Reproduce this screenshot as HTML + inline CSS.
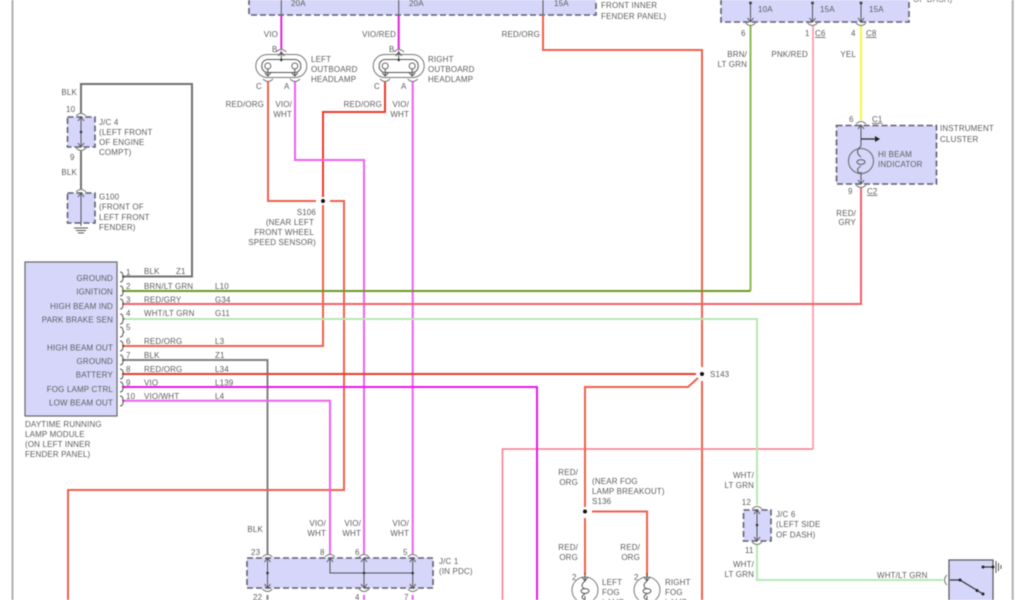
<!DOCTYPE html>
<html><head><meta charset="utf-8"><style>
html,body{margin:0;padding:0;background:#fff;width:1024px;height:600px;overflow:hidden}
svg{display:block;filter:blur(.5px)}
text{font-family:"Liberation Sans",sans-serif;font-size:8px;fill:#5c5c5c;letter-spacing:.15px}
.e{text-anchor:end}
.w{fill:none;stroke-width:2}
.box{fill:#d6d6fb;stroke:#5f5f6f;stroke-width:1.6;stroke-dasharray:6 3}
.k{fill:none;stroke:#555;stroke-width:1}
.a{fill:none;stroke:#777;stroke-width:1}
</style></head><body>
<svg width="1024" height="600" viewBox="0 0 1024 600" xmlns="http://www.w3.org/2000/svg">
<defs>
<g id="t"><path class="a" d="M-5 2Q0-3 5 2"/><path class="k" d="M-3 7L0 3L3 7"/></g>
<g id="b"><path class="a" d="M-5-2Q0 3 5-2"/><path class="k" d="M-3-7L0-3L3-7"/></g>
<g id="r"><path class="k" d="M-1-5Q2-5 2-1L3 0L2 1Q2 5-1 5"/></g>
<g id="lamp"><circle r="13" fill="#fff" stroke="#777" stroke-width="1"/><path class="k" d="M0-17V-10M0 6V17M-3-13L0-9L3-13"/><ellipse cx="0" cy="1" rx="4" ry="2.4" class="k"/><path class="k" d="M0-9Q-6-4 0-1M0 4Q-6 7 0 10"/></g>
<g id="h"><rect x="-25.500" y="-11.500" width="51" height="23" rx="11.500" fill="#fff" stroke="#777" stroke-width="1"/><rect x="-19.500" y="-6.500" width="39" height="13" rx="6" fill="none" stroke="#555"/><circle cx="-13.500" r="3" fill="#fff" stroke="#666"/><circle cx="13.500" r="3" fill="#fff" stroke="#666"/><path class="k" d="M0-15V-6M-3-10L0-14L3-10M-13.500 3V10M13.500 3V10M-16.500 7L-13.500 10L-10.500 7M10.500 7L13.500 10L16.500 7"/><circle cy="-6" r="1.200" fill="#222"/></g>
</defs>

<!-- page frame -->
<path d="M12.500 0V600M1012.700 0V600" stroke="#b0b0b0" stroke-width="2" fill="none"/>

<!-- boxes -->
<path d="M249-10V15H596V-10" class="box"/>
<path d="M721-10V22H909V-10" class="box"/>
<rect x="25" y="262" width="92" height="154" fill="#d6d6fb" stroke="#666" stroke-width="1.200"/>
<rect x="67.500" y="117" width="27.500" height="30" class="box"/>
<rect x="67.500" y="193" width="27.500" height="30" class="box"/>
<rect x="836.500" y="125.500" width="100" height="58.500" class="box"/>
<rect x="247" y="558" width="186" height="30" class="box"/>
<rect x="743.500" y="510" width="27.500" height="31" class="box"/>
<rect x="949" y="560" width="44" height="45" fill="#d6d6fb" stroke="#555" stroke-width="1.200"/>

<!-- wires -->
<path class="w" stroke="#707070" d="M81 113V84H192V276.500H122"/>
<path class="w" stroke="#707070" d="M81 151V189"/>
<path class="w" stroke="#808080" d="M122 360H267.500V555"/>
<path class="w" stroke="#e020e0" d="M281.300 15V49"/>
<path class="w" stroke="#e020e0" d="M398.700 15V49"/>
<path class="w" stroke="#f0604c" d="M268 81V201H316M330 201H344V490H68V600"/>
<path class="w" stroke="#ec3a2c" d="M385 81V112H323V197"/>
<path class="w" stroke="#f0604c" d="M323 205V346H122"/>
<path class="w" stroke="#ee60ee" d="M295 81V160H364V555"/>
<path class="w" stroke="#ee60ee" d="M412.700 81V555"/>
<path class="w" stroke="#f0604c" d="M543 15V50H702V367M702 381V600"/>
<path class="w" stroke="#f8a8b4" d="M813 25V449"/>
<path stroke="#f5788c" stroke-width="1.500" fill="none" d="M813 449H502.500V600"/>
<path class="w" stroke="#8cba50" d="M750.500 25V291"/>
<path class="w" stroke="#6e9a20" d="M750.500 291H122"/>
<path class="w" stroke="#f4f440" d="M861 25V120"/>
<path class="w" stroke="#f0606c" d="M861 188V304H122"/>
<path class="w" stroke="#b4e8b4" d="M122 319H757V505M757 545V580H943"/>
<path class="w" stroke="#e63c28" d="M122 374H696"/>
<path class="w" stroke="#f0604c" d="M698 378L688 387H585V507M585 518V575M592 511.500H647V576"/>
<path class="w" stroke="#e818e8" d="M122 387H537V600"/>
<path class="w" stroke="#ee60ee" d="M122 400.700H330V555"/>
<path stroke="#ee60ee" stroke-width="2" d="M364 595V600M412.700 595V600"/>
<path stroke="#888" stroke-width="2" d="M267.500 595V600"/>

<!-- inner connections -->
<path class="k" d="M281.300-5V15M398.700-5V15M543-5V15M750.500 3V22M812.500 3V22M861 3V22"/>
<circle cx="750.500" cy="3" r="1.500" fill="#444"/><circle cx="812.500" cy="3" r="1.500" fill="#444"/><circle cx="861" cy="3" r="1.500" fill="#444"/>
<path class="k" d="M81 117V147M81 193V226M267.500 558V588M330 558V573H412.700V588M364 558V588M412.700 558V573M757 510V541M861 125V146M861 172V184"/>
<path d="M861 139H876" stroke="#222" stroke-width="1.200"/><path d="M875 136L880 139L875 142Z" fill="#222"/>
<circle cx="81" cy="132" r="1.300" fill="#333"/><circle cx="267.500" cy="573" r="1.300" fill="#333"/><circle cx="364" cy="573" r="1.300" fill="#333"/><circle cx="412.700" cy="573" r="1.300" fill="#333"/><circle cx="757" cy="525" r="1.300" fill="#333"/>
<path class="k" d="M74 228H88M76 230.500H86M78 233H84"/>

<!-- connectors -->
<use href="#t" x="81" y="114"/><use href="#b" x="81" y="150"/><use href="#t" x="81" y="190"/>
<use href="#t" x="861" y="122"/><use href="#b" x="861" y="187"/>
<use href="#b" x="750.500" y="25"/><use href="#b" x="812.500" y="25"/><use href="#b" x="861" y="25"/>
<use href="#t" x="267.500" y="555"/><use href="#t" x="330" y="555"/><use href="#t" x="364" y="555"/><use href="#t" x="412.700" y="555"/>
<use href="#b" x="267.500" y="591"/><use href="#b" x="364" y="591"/><use href="#b" x="412.700" y="591"/>
<use href="#t" x="757" y="507"/><use href="#b" x="757" y="544"/>
<use href="#r" x="121" y="277"/><use href="#r" x="121" y="291"/><use href="#r" x="121" y="304"/><use href="#r" x="121" y="319"/><use href="#r" x="121" y="332"/><use href="#r" x="121" y="346"/><use href="#r" x="121" y="360"/><use href="#r" x="121" y="374"/><use href="#r" x="121" y="387"/><use href="#r" x="121" y="401"/>
<path class="a" d="M947 575Q942 580 947 585"/>

<!-- lamps -->
<use href="#h" x="281.300" y="66"/><use href="#h" x="398.700" y="66"/>
<path class="a" d="M276 52Q281.300 47 286.500 52M394 52Q398.700 47 404 52M263 79Q268 84 273 79M290 79Q295 84 300 79M380 79Q385 84 390 79M407.700 79Q412.700 84 417.700 79"/>
<circle cx="861" cy="161" r="12.500" fill="none" stroke="#666"/>
<path class="k" d="M861 146Q854 152 861 157M861 166Q854 170 861 174"/><ellipse cx="861" cy="162" rx="4" ry="2.400" class="k"/>
<use href="#lamp" x="585" y="590"/><use href="#lamp" x="647" y="590"/>

<!-- switch -->
<path d="M950 580H960L983 594" stroke="#333" stroke-width="1.200" fill="none"/>
<circle cx="960" cy="580" r="1.500" fill="#222"/><circle cx="977" cy="590.500" r="1.500" fill="#222"/><circle cx="983" cy="594" r="1.500" fill="#222"/>
<path d="M983 567H994" stroke="#333" stroke-width="1.200"/><circle cx="983" cy="567" r="1.500" fill="#222"/><circle cx="993" cy="567" r="1.500" fill="#222"/>
<path d="M996 561V573M998.500 563V571M1001 565V569" stroke="#555"/>

<!-- splices -->
<circle cx="323" cy="201" r="2" fill="#111"/><circle cx="702" cy="374" r="2" fill="#111"/><circle cx="585" cy="511.500" r="2" fill="#111"/>

<!-- labels -->
<text x="291" y="6">20A</text><text x="409" y="6">20A</text><text x="554" y="6">15A</text>
<text x="601" y="8">FRONT INNER</text><text x="601" y="19">FENDER PANEL)</text>
<text x="758" y="12">10A</text><text x="820" y="12">15A</text><text x="869" y="12">15A</text><text x="913" y="2">OF DASH)</text>
<text class="e" x="278" y="37">VIO</text><text x="272" y="52">B</text><text x="311" y="62">LEFT</text><text x="311" y="72">OUTBOARD</text><text x="311" y="82">HEADLAMP</text>
<text x="256" y="89">C</text><text x="284" y="89">A</text>
<text class="e" x="264" y="107">RED/ORG</text><text class="e" x="292" y="107">VIO/</text><text class="e" x="292" y="117">WHT</text>
<text class="e" x="396" y="37">VIO/RED</text><text x="389" y="52">B</text><text x="428" y="62">RIGHT</text><text x="428" y="72">OUTBOARD</text><text x="428" y="82">HEADLAMP</text>
<text x="374" y="89">C</text><text x="401" y="89">A</text>
<text class="e" x="382" y="107">RED/ORG</text><text class="e" x="409" y="107">VIO/</text><text class="e" x="409" y="117">WHT</text>
<text class="e" x="540" y="37">RED/ORG</text>
<text class="e" x="747" y="57">BRN/</text><text class="e" x="747" y="67">LT GRN</text><text class="e" x="808" y="57">PNK/RED</text><text class="e" x="856" y="57">YEL</text>
<text x="741" y="36">6</text><text x="805" y="36">1</text><text x="815" y="36" text-decoration="underline">C6</text><text x="851" y="36">4</text><text x="866" y="36" text-decoration="underline">C8</text>
<text x="849" y="122">6</text><text x="872" y="122" text-decoration="underline">C1</text><text x="940" y="131">INSTRUMENT</text><text x="940" y="142">CLUSTER</text>
<text x="878" y="157">HI BEAM</text><text x="878" y="167">INDICATOR</text>
<text x="848" y="194">9</text><text x="867" y="194" text-decoration="underline">C2</text><text class="e" x="856" y="216">RED/</text><text class="e" x="856" y="225">GRY</text>
<text class="e" x="77" y="95">BLK</text><text x="66" y="112">10</text><text x="99" y="125">J/C 4</text><text x="99" y="135">(LEFT FRONT</text><text x="99" y="145">OF ENGINE</text><text x="99" y="155">COMPT)</text>
<text x="70" y="160">9</text><text class="e" x="77" y="175">BLK</text><text x="99" y="199.500">G100</text><text x="99" y="209.500">(FRONT OF</text><text x="99" y="220">LEFT FRONT</text><text x="99" y="230">FENDER)</text>
<text class="e" x="316" y="215">S106</text><text class="e" x="314" y="225">(NEAR LEFT</text><text class="e" x="314" y="235">FRONT WHEEL</text><text class="e" x="316" y="245">SPEED SENSOR)</text>
<text class="e" x="113" y="281">GROUND</text><text class="e" x="113" y="294.500">IGNITION</text><text class="e" x="113" y="309">HIGH BEAM IND</text><text class="e" x="113" y="322.500">PARK BRAKE SEN</text><text class="e" x="113" y="350.500">HIGH BEAM OUT</text><text class="e" x="113" y="364">GROUND</text><text class="e" x="113" y="377.500">BATTERY</text><text class="e" x="113" y="392">FOG LAMP CTRL</text><text class="e" x="113" y="405.500">LOW BEAM OUT</text>
<text x="126" y="275">1</text><text x="126" y="289">2</text><text x="126" y="302.500">3</text><text x="126" y="316">4</text><text x="126" y="330">5</text><text x="126" y="344">6</text><text x="126" y="358">7</text><text x="126" y="372">8</text><text x="126" y="385.500">9</text><text x="126" y="399">10</text>
<text x="144" y="274">BLK</text><text x="176" y="274">Z1</text>
<text x="144" y="289">BRN/LT GRN</text><text x="215" y="289">L10</text>
<text x="144" y="302.500">RED/GRY</text><text x="215" y="302.500">G34</text>
<text x="144" y="316">WHT/LT GRN</text><text x="215" y="316">G11</text>
<text x="144" y="344">RED/ORG</text><text x="215" y="344">L3</text>
<text x="144" y="358">BLK</text><text x="215" y="358">Z1</text>
<text x="144" y="372">RED/ORG</text><text x="215" y="372">L34</text>
<text x="144" y="385.500">VIO</text><text x="215" y="385.500">L139</text>
<text x="144" y="399">VIO/WHT</text><text x="215" y="399">L4</text>
<text x="25" y="427">DAYTIME RUNNING</text><text x="25" y="437">LAMP MODULE</text><text x="25" y="447">(ON LEFT INNER</text><text x="25" y="457">FENDER PANEL)</text>
<text class="e" x="263" y="532">BLK</text>
<text class="e" x="326" y="526">VIO/</text><text class="e" x="326" y="536">WHT</text><text class="e" x="361" y="526">VIO/</text><text class="e" x="361" y="536">WHT</text><text class="e" x="409" y="526">VIO/</text><text class="e" x="409" y="536">WHT</text>
<text x="251" y="555">23</text><text x="320" y="555">8</text><text x="355" y="555">6</text><text x="403" y="555">5</text>
<text x="439" y="564">J/C 1</text><text x="439" y="574">(IN PDC)</text>
<text x="253" y="600">22</text><text x="355" y="600">4</text><text x="404" y="600">7</text>
<text x="710" y="377">S143</text>
<text class="e" x="578" y="475">RED/</text><text class="e" x="578" y="485">ORG</text>
<text x="592" y="484">(NEAR FOG</text><text x="592" y="494">LAMP BREAKOUT)</text><text x="592" y="504">S136</text>
<text class="e" x="578" y="550">RED/</text><text class="e" x="578" y="560">ORG</text><text class="e" x="640" y="550">RED/</text><text class="e" x="640" y="560">ORG</text>
<text x="572" y="580">2</text><text x="634" y="580">2</text>
<text x="602" y="585">LEFT</text><text x="602" y="595">FOG</text><text x="602" y="605">LAMP</text>
<text x="665" y="585">RIGHT</text><text x="665" y="595">FOG</text><text x="665" y="605">LAMP</text>
<text class="e" x="754" y="478">WHT/</text><text class="e" x="754" y="488">LT GRN</text><text class="e" x="751" y="505">12</text>
<text x="776" y="517">J/C 6</text><text x="776" y="527">(LEFT SIDE</text><text x="776" y="537.500">OF DASH)</text>
<text x="745" y="553">11</text><text class="e" x="754" y="567">WHT/</text><text class="e" x="754" y="577">LT GRN</text>
<text x="877" y="578">WHT/LT GRN</text>
</svg>
</body></html>
